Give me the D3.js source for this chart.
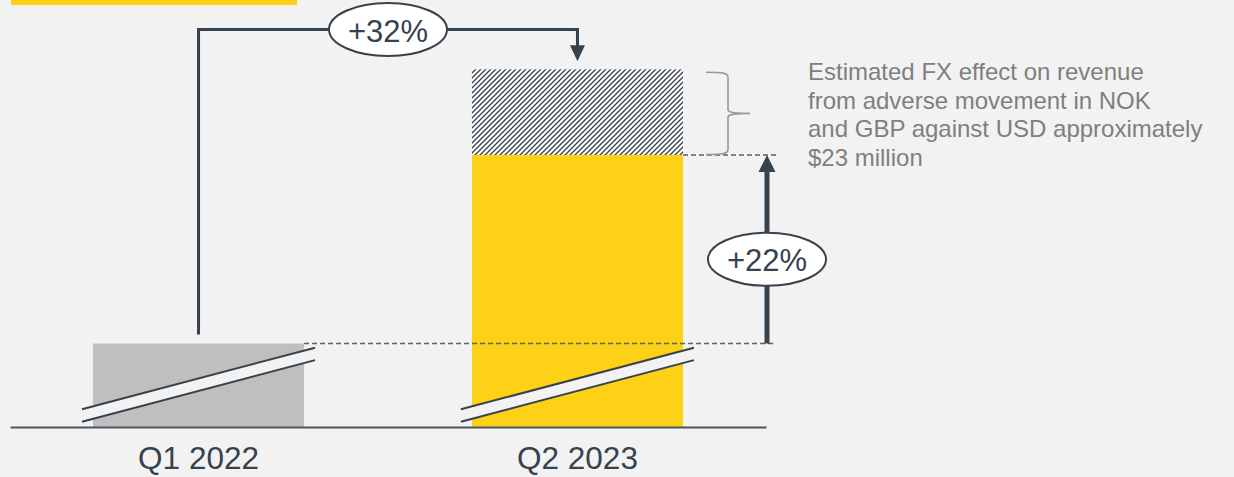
<!DOCTYPE html>
<html>
<head>
<meta charset="utf-8">
<script src="https://cdn.jsdelivr.net/npm/d3@7"></script>
<style>
  html, body { margin: 0; padding: 0; background: #f2f2f2; }
  svg { display: block; font-family: "Liberation Sans", Arial, Helvetica, sans-serif; }
</style>
</head>
<body>
<svg id="chart" width="1234" height="477"></svg>
<script>
// Revenue bridge: reported revenue per quarter (USD millions) and FX effect
const categories = ["Q1 2022", "Q2 2023"];
const reportedRevenue = [230, 280.6];
const fxEffect = [0, 23];
const barColors = ["#bfbfbf", "#fcd116"];
const growthReported = "+22%";
const growthConstantFx = "+32%";
const noteLines = [
  "Estimated FX effect on revenue",
  "from adverse movement in NOK",
  "and GBP against USD approximately",
  "$23 million"
];

const W = 1234, H = 477;
const dark = "#36424e";
const bg = "#f2f2f2";
const svg = d3.select("#chart");

svg.append("rect").attr("width", W).attr("height", H).attr("fill", bg);

// brand strip at the top left
svg.append("rect").attr("x", 11).attr("y", 0).attr("width", 286).attr("height", 5).attr("fill", "#fdd116");

const axisY = 427;
const x = d3.scaleBand().domain(categories).range([10, 766])
  .paddingInner(0.443).paddingOuter(0.219);
// broken value axis: the baseline does not start at zero
const y = d3.scaleLinear().domain([207.6, 322.2]).range([axisY, 0]);

// hatch pattern for the FX effect
const defs = svg.append("defs");
const pat = defs.append("pattern").attr("id", "fxHatch")
  .attr("patternUnits", "userSpaceOnUse").attr("width", 5).attr("height", 5);
pat.append("rect").attr("width", 5).attr("height", 5).attr("fill", "#ffffff");
pat.append("path").attr("d", "M0,5 L5,0 M-1,1 L1,-1 M4,6 L6,4")
  .attr("stroke", dark).attr("stroke-width", 1.35);

const bars = categories.map((c, i) => ({
  cat: c, value: reportedRevenue[i], fx: fxEffect[i], color: barColors[i]
}));

// main bars
svg.append("g").selectAll("rect").data(bars).join("rect")
  .attr("x", d => x(d.cat))
  .attr("y", d => y(d.value))
  .attr("width", x.bandwidth())
  .attr("height", d => axisY - y(d.value))
  .attr("fill", d => d.color);

// FX effect stacked on top
svg.append("g").selectAll("rect").data(bars.filter(d => d.fx > 0)).join("rect")
  .attr("x", d => x(d.cat))
  .attr("y", d => y(d.value + d.fx))
  .attr("width", x.bandwidth())
  .attr("height", d => y(d.value) - y(d.value + d.fx))
  .attr("fill", "url(#fxHatch)");

// axis break marks across each bar
const brk = svg.append("g");
bars.forEach(d => {
  const x0 = x(d.cat) - 11, x1 = x(d.cat) + x.bandwidth() + 11;
  const yA0 = axisY - 17.7, yA1 = axisY - 79.3;
  const gap = 12.4;
  brk.append("path")
    .attr("d", `M${x0},${yA0}L${x1},${yA1}L${x1},${yA1 + gap}L${x0},${yA0 + gap}Z`)
    .attr("fill", bg);
  brk.append("line").attr("x1", x0).attr("y1", yA0).attr("x2", x1).attr("y2", yA1)
    .attr("stroke", dark).attr("stroke-width", 2);
  brk.append("line").attr("x1", x0).attr("y1", yA0 + gap).attr("x2", x1).attr("y2", yA1 + gap)
    .attr("stroke", dark).attr("stroke-width", 2);
});

// category axis
const axis = svg.append("g").attr("transform", `translate(0,${axisY})`)
  .call(d3.axisBottom(x).tickSize(0).tickSizeOuter(0).tickPadding(20));
axis.select(".domain").attr("stroke", "#4a5560").attr("stroke-width", 2);
axis.selectAll("text").attr("font-size", 31.5).attr("fill", dark)
  .attr("font-family", "\"Liberation Sans\", Arial, sans-serif");

// reference dashed lines
const arrowX = 767;
const yBase = y(reportedRevenue[0]);
const yNow = y(reportedRevenue[1]);
const yFx = y(reportedRevenue[1] + fxEffect[1]);
svg.append("line").attr("x1", x(categories[0]) + x.bandwidth()).attr("x2", 776)
  .attr("y1", yBase).attr("y2", yBase)
  .attr("stroke", "#56616b").attr("stroke-width", 1.4).attr("stroke-dasharray", "5,3");
svg.append("line").attr("x1", x(categories[1]) + x.bandwidth()).attr("x2", 776)
  .attr("y1", yNow).attr("y2", yNow)
  .attr("stroke", "#56616b").attr("stroke-width", 1.4).attr("stroke-dasharray", "5,3");

// reported growth arrow (+22%)
svg.append("line").attr("x1", arrowX).attr("x2", arrowX)
  .attr("y1", yBase).attr("y2", yNow + 16)
  .attr("stroke", dark).attr("stroke-width", 5);
svg.append("path")
  .attr("d", `M${arrowX},${yNow}L${arrowX + 8.5},${yNow + 17}L${arrowX - 8.5},${yNow + 17}Z`)
  .attr("fill", dark);

function bubble(cx, cy, label) {
  svg.append("ellipse").attr("cx", cx).attr("cy", cy).attr("rx", 59).attr("ry", 26.5)
    .attr("fill", "#ffffff").attr("stroke", dark).attr("stroke-width", 2);
  svg.append("text").attr("x", cx).attr("y", cy + 12).attr("text-anchor", "middle")
    .attr("font-size", 31).attr("fill", dark).text(label);
}
bubble(arrowX, (yBase + yNow) / 2 + 10, growthReported);

// constant-currency growth connector (+32%)
const cx0 = x(categories[0]) + x.bandwidth() / 2;
const cx1 = x(categories[1]) + x.bandwidth() / 2;
const topY = 29.5;
svg.append("path")
  .attr("d", `M${cx0},${yBase - 9}V${topY}H${cx1}V${yFx - 22}`)
  .attr("fill", "none").attr("stroke", dark).attr("stroke-width", 3);
svg.append("path")
  .attr("d", `M${cx1},${yFx - 8}L${cx1 + 7.5},${yFx - 24}L${cx1 - 7.5},${yFx - 24}Z`)
  .attr("fill", dark);
bubble((cx0 + cx1) / 2, topY, growthConstantFx);

// curly brace around the FX effect
const bx = 706, spine = 728, tipX = 750;
const bTop = yFx + 3, bBot = yNow - 0.5, bMid = (bTop + bBot) / 2;
svg.append("path")
  .attr("d", `M${bx},${bTop} C${spine - 6},${bTop} ${spine},${bTop + 0.5} ${spine},${bTop + 5}
    V${bMid - 4} C${spine},${bMid - 1.5} ${spine + 3},${bMid} ${tipX},${bMid}
    C${spine + 3},${bMid} ${spine},${bMid + 1.5} ${spine},${bMid + 4}
    V${bBot - 5} C${spine},${bBot - 0.5} ${spine - 6},${bBot} ${bx},${bBot}`)
  .attr("fill", "none").attr("stroke", "#999999").attr("stroke-width", 1.6);

// note text
svg.append("g").selectAll("text").data(noteLines).join("text")
  .attr("x", 808).attr("y", (d, i) => 80 + i * 28.7)
  .attr("font-size", 24).attr("fill", "#7f7f7f").text(d => d);
</script>
</body>
</html>
